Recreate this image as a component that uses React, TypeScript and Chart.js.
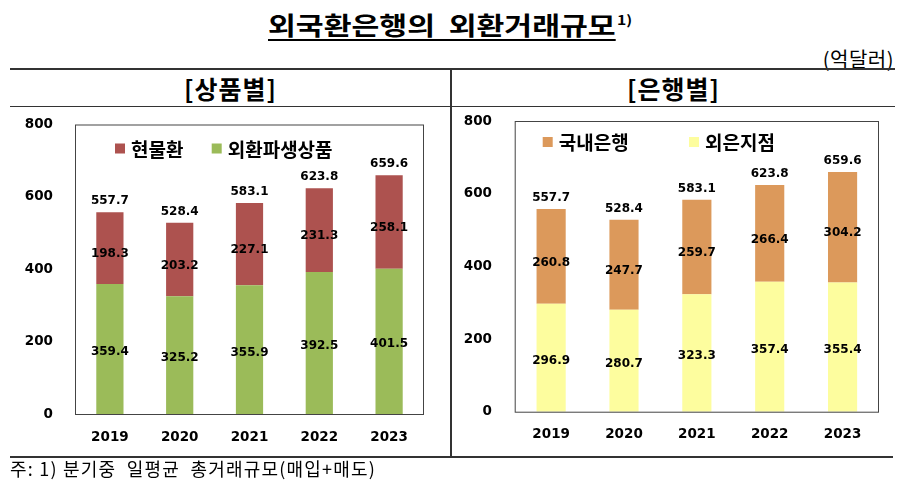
import { useEffect, useRef } from 'react';
import { Chart, ChartConfiguration, registerables } from 'chart.js';

Chart.register(...registerables);

// values in 억달러
const years = ['2019', '2020', '2021', '2022', '2023'];
const spot = [198.3, 203.2, 227.1, 231.3, 258.1];
const derivatives = [359.4, 325.2, 355.9, 392.5, 401.5];
const productTotals = [557.7, 528.4, 583.1, 623.8, 659.6];
const domesticBanks = [260.8, 247.7, 259.7, 266.4, 304.2];
const foreignBranches = [296.9, 280.7, 323.3, 357.4, 355.4];
const bankTotals = [557.7, 528.4, 583.1, 623.8, 659.6];
const yTicks = [0, 200, 400, 600, 800];

const KR = '"Noto Sans CJK KR", "Noto Sans", sans-serif';
const NUM = '"DejaVu Sans", Verdana, sans-serif';

interface Series {
  label: string;
  values: number[];
  color: string;
}

interface StackedChartProps {
  lower: Series;
  upper: Series;
  totals: number[];
  width: number;
  height: number;
  area: { left: number; top: number; right: number; bottom: number; yLabelRight: number };
  barPercentage: number;
  legendX: number[]; // offsets of legend items from chart area left
  legendY: number; // offset of legend centre from chart area top
}

function StackedChart(props: StackedChartProps) {
  const canvasRef = useRef<HTMLCanvasElement>(null);
  const chartRef = useRef<Chart | null>(null);

  useEffect(() => {
    if (!canvasRef.current) return;
    if (chartRef.current) chartRef.current.destroy();
    const ctx = canvasRef.current.getContext('2d');
    if (!ctx) return;

    const { lower, upper, totals, width, height, area } = props;

    const decorations = {
      id: 'decorations',
      afterDatasetsDraw(chart: Chart) {
        const c = chart.ctx;
        const ca = chart.chartArea;
        c.save();

        // plot frame
        c.strokeStyle = '#444';
        c.lineWidth = 1;
        c.strokeRect(ca.left + 0.5, ca.top + 0.5, ca.right - ca.left - 1, ca.bottom - ca.top);

        // value labels
        c.fillStyle = '#000';
        c.font = `bold 12px ${NUM}`;
        c.textAlign = 'center';
        c.textBaseline = 'middle';
        const lowMeta = chart.getDatasetMeta(0);
        const upMeta = chart.getDatasetMeta(1);
        lowMeta.data.forEach((el: any, i) => {
          c.fillText(lower.values[i].toFixed(1), el.x, (el.y + el.base) / 2 + 3);
        });
        upMeta.data.forEach((el: any, i) => {
          c.fillText(upper.values[i].toFixed(1), el.x, (el.y + el.base) / 2 + 6);
          c.fillText(totals[i].toFixed(1), el.x, el.y - 11);
        });

        // legend
        const items = [upper, lower];
        c.font = `bold 19px ${KR}`;
        c.textAlign = 'left';
        items.forEach((s, k) => {
          const x = ca.left + props.legendX[k];
          const y = ca.top + props.legendY;
          c.fillStyle = s.color;
          c.fillRect(x, y - 5, 10, 10);
          c.fillStyle = '#000';
          c.fillText(s.label, x + 16, y + 1);
        });
        c.restore();
      }
    };

    const config: ChartConfiguration = {
      type: 'bar',
      data: {
        labels: years,
        datasets: [
          {
            label: lower.label,
            data: lower.values,
            backgroundColor: lower.color,
            barPercentage: props.barPercentage,
            categoryPercentage: 1
          },
          {
            label: upper.label,
            data: upper.values,
            backgroundColor: upper.color,
            barPercentage: props.barPercentage,
            categoryPercentage: 1
          }
        ]
      },
      options: {
        responsive: false,
        animation: false,
        devicePixelRatio: 1,
        layout: {
          padding: { left: 0, top: area.top, right: width - area.right, bottom: 0 }
        },
        plugins: {
          legend: { display: false },
          title: { display: false },
          tooltip: { enabled: false }
        },
        scales: {
          x: {
            stacked: true,
            grid: { display: false, drawTicks: false },
            border: { display: false },
            ticks: {
              color: '#000',
              padding: 15,
              font: { family: NUM, size: 13.5, weight: 'bold' }
            },
            afterFit: (scale: any) => {
              scale.height = height - area.bottom;
              scale.paddingLeft = 0;
              scale.paddingRight = 0;
            }
          },
          y: {
            stacked: true,
            min: yTicks[0],
            max: yTicks[yTicks.length - 1],
            grid: { display: false, drawTicks: false },
            border: { display: false },
            afterBuildTicks: (scale: any) => {
              scale.ticks = yTicks.map((v) => ({ value: v }));
            },
            ticks: {
              color: '#000',
              padding: area.left - area.yLabelRight,
              font: { family: NUM, size: 13.5, weight: 'bold' }
            },
            afterFit: (scale: any) => {
              scale.width = area.left;
              scale.paddingTop = 0;
              scale.paddingBottom = 0;
            }
          }
        }
      },
      plugins: [decorations]
    } as any;

    chartRef.current = new Chart(ctx, config);

    return () => {
      if (chartRef.current) {
        chartRef.current.destroy();
        chartRef.current = null;
      }
    };
  }, [props]);

  return (
    <canvas
      ref={canvasRef}
      width={props.width}
      height={props.height}
      style={{ width: props.width, height: props.height, display: 'block' }}
    ></canvas>
  );
}

const productProps: any = {
  lower: { label: '외환파생상품', values: derivatives, color: '#9BBB59' },
  upper: { label: '현물환', values: spot, color: '#AD524F' },
  totals: productTotals,
  width: 440,
  height: 348,
  area: { left: 65, top: 16.5, right: 414, bottom: 306, yLabelRight: 43 },
  barPercentage: 0.39,
  legendX: [40, 136.7],
  legendY: 24
};

const bankProps: any = {
  lower: { label: '외은지점', values: foreignBranches, color: '#FDFD9E' },
  upper: { label: '국내은행', values: domesticBanks, color: '#DC995B' },
  totals: bankTotals,
  width: 443,
  height: 348,
  area: { left: 62.7, top: 13, right: 427, bottom: 303.7, yLabelRight: 40 },
  barPercentage: 0.4,
  legendX: [28, 174.3],
  legendY: 21
};

export default function App() {
  const line = (style: any) => <div style={{ position: 'absolute', background: '#333', ...style }} />;
  return (
    <div
      style={{
        position: 'absolute',
        left: 0,
        top: 0,
        width: 906,
        height: 495,
        background: '#fff',
        fontFamily: KR,
        color: '#000',
        overflow: 'hidden'
      }}
    >
      <div
        style={{
          position: 'absolute',
          left: 268,
          top: 4,
          fontSize: 25,
          fontWeight: 'bold',
          lineHeight: '34px',
          whiteSpace: 'pre',
          transform: 'scaleX(1.21)',
          transformOrigin: 'left top'
        }}
      >
        <span style={{ textDecoration: 'underline', textDecorationThickness: 2, textUnderlineOffset: 4 }}>
          {'외국환은행의  외환거래규모'}
        </span>
        <sup style={{ fontSize: 13, position: 'relative', top: -1, left: 1 }}>1)</sup>
      </div>
      <div style={{ position: 'absolute', right: 12, top: 46, fontSize: 20, lineHeight: '26px', letterSpacing: 0.5 }}>
        (억달러)
      </div>
      {line({ left: 10, top: 68, width: 885, height: 2 })}
      {line({ left: 450, top: 68, width: 2, height: 390 })}
      {line({ left: 10, top: 106, width: 885, height: 1 })}
      {line({ left: 10, top: 456, width: 883, height: 2 })}
      <div
        style={{ position: 'absolute', left: 10, width: 441, top: 71, textAlign: 'center', fontSize: 25, fontWeight: 'bold', lineHeight: '34px', letterSpacing: 1 }}
      >
        [상품별]
      </div>
      <div
        style={{ position: 'absolute', left: 452, width: 443, top: 71, textAlign: 'center', fontSize: 25, fontWeight: 'bold', lineHeight: '34px', letterSpacing: 1 }}
      >
        [은행별]
      </div>
      <div style={{ position: 'absolute', left: 10, top: 108 }}>
        <StackedChart {...productProps} />
      </div>
      <div style={{ position: 'absolute', left: 452, top: 108 }}>
        <StackedChart {...bankProps} />
      </div>
      <div style={{ position: 'absolute', left: 10, top: 455, fontSize: 18, lineHeight: '26px', letterSpacing: 1.2, whiteSpace: 'pre' }}>
        {'주: 1) 분기중  일평균  총거래규모(매입+매도)'}
      </div>
    </div>
  );
}
